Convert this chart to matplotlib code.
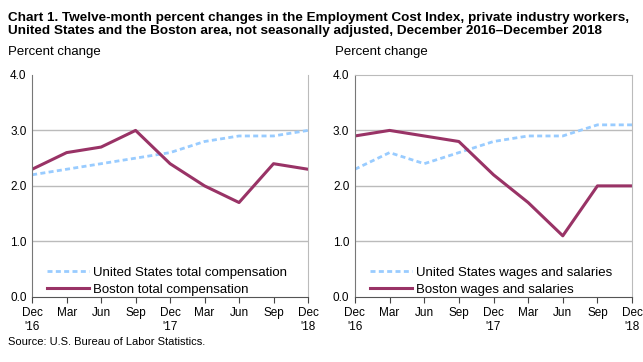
import matplotlib
matplotlib.use("Agg")
import matplotlib.pyplot as plt

plt.rcParams['font.family'] = ['Liberation Sans', 'DejaVu Sans']

# quarters Dec 2016 .. Dec 2018
quarters = ["Dec\n'16", "Mar", "Jun", "Sep", "Dec\n'17", "Mar", "Jun", "Sep", "Dec\n'18"]

us_total = [2.2, 2.3, 2.4, 2.5, 2.6, 2.8, 2.9, 2.9, 3.0]
boston_total = [2.3, 2.6, 2.7, 3.0, 2.4, 2.0, 1.7, 2.4, 2.3]
us_wages = [2.3, 2.6, 2.4, 2.6, 2.8, 2.9, 2.9, 3.1, 3.1]
boston_wages = [2.9, 3.0, 2.9, 2.8, 2.2, 1.7, 1.1, 2.0, 2.0]

yticks = [0.0, 1.0, 2.0, 3.0, 4.0]

US_COLOR = '#99CCFF'
BOS_COLOR = '#993366'

fig = plt.figure(figsize=(6.43, 3.62), dpi=100)

fig.text(0.012, 0.968, "Chart 1. Twelve-month percent changes in the Employment Cost Index, private industry workers,\n"
         "United States and the Boston area, not seasonally adjusted, December 2016\u2013December 2018",
         fontsize=9.7, fontweight='bold', va='top', ha='left', linespacing=1.2)


def panel(rect, us, bos, us_label, bos_label, top_spine):
    ax = fig.add_axes(rect)
    x = range(len(quarters))
    ax.plot(x, us, color=US_COLOR, lw=2.0, ls=(0, (1.8, 1.2)), label=us_label)
    ax.plot(x, bos, color=BOS_COLOR, lw=2.2, label=bos_label)
    ax.set_xlim(0, len(quarters) - 1)
    ax.set_ylim(0, 4.0)
    ax.set_yticks(yticks)
    ax.set_yticklabels([f"{v:.1f}" for v in yticks])
    ax.set_xticks(list(x))
    ax.set_xticklabels(quarters)
    for v in [1.0, 2.0, 3.0]:
        ax.axhline(v, color='#BBBBBB', lw=1, zorder=0)
    ax.tick_params(axis='y', length=0, labelsize=8.5, pad=4)
    ax.tick_params(axis='x', length=4, direction='out', labelsize=8.5, color='#444444', pad=3)
    for lab in ax.get_xticklabels():
        lab.set_linespacing(1.25)
        lab.set_va('top')
    ax.spines['left'].set_color('#777777')
    ax.spines['bottom'].set_color('#555555')
    ax.spines['right'].set_color('#BBBBBB')
    ax.spines['top'].set_color('#BBBBBB')
    ax.spines['top'].set_visible(top_spine)
    ax.legend(loc='lower left', frameon=False, fontsize=9.5, handlelength=3.2,
              borderaxespad=0.1, bbox_to_anchor=(0.03, -0.025), labelspacing=0.35,
              handletextpad=0.3)
    return ax


panel([0.050, 0.180, 0.429, 0.613], us_total, boston_total,
      "United States total compensation", "Boston total compensation", False)
panel([0.552, 0.180, 0.431, 0.613], us_wages, boston_wages,
      "United States wages and salaries", "Boston wages and salaries", True)

fig.text(0.012, 0.857, "Percent change", fontsize=9.5, ha='left', va='center')
fig.text(0.521, 0.857, "Percent change", fontsize=9.5, ha='left', va='center')
fig.text(0.012, 0.056, "Source: U.S. Bureau of Labor Statistics.", fontsize=8, ha='left', va='center')

fig.savefig("out.png", dpi=100)
